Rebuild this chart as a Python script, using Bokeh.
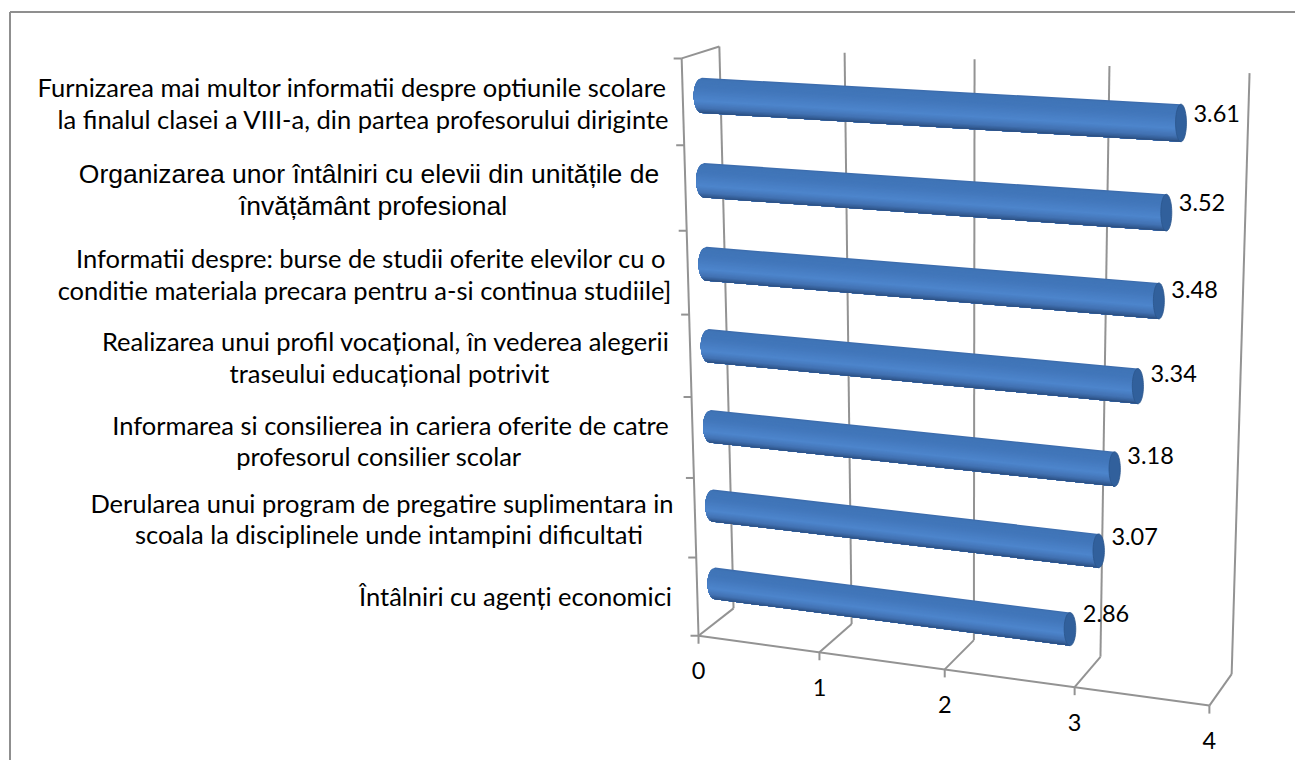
import numpy as np
from bokeh.plotting import figure
from bokeh.embed import file_html
from bokeh.resources import INLINE
from bokeh.core.properties import value as bk_value

# ---- data (top category first)
category_lines = [
    ["Furnizarea mai multor informatii despre optiunile scolare", "la finalul clasei a VIII-a, din partea profesorului diriginte"],
    ["Organizarea unor întâlniri cu elevii din unitățile de", "învățământ profesional"],
    ["Informatii despre: burse de studii oferite elevilor cu o", "conditie materiala precara pentru a-si continua studiile]"],
    ["Realizarea unui profil vocațional, în vederea alegerii", "traseului educațional potrivit"],
    ["Informarea si consilierea in cariera oferite de catre", "profesorul consilier scolar"],
    ["Derularea unui program de pregatire suplimentara in", "scoala la disciplinele unde intampini dificultati"],
    ["Întâlniri cu agenți economici"],
]
values = [3.61, 3.52, 3.48, 3.34, 3.18, 3.07, 2.86]
x_ticks = [0, 1, 2, 3, 4]
value_labels = ["3.61", "3.52", "3.48", "3.34", "3.18", "3.07", "2.86"]

# ---- layout
W, H = 1295, 760
V_MAX, N_CAT = 4.0, 7.0
# box corners (value, category, depth) -> pixel
CORNERS = [
    ((0, 0, 0), (698, 635)), ((4, 0, 0), (1209, 705)), ((0, 7, 0), (681, 58)),
    ((0, 0, 1), (733, 608)), ((4, 0, 1), (1231, 674)), ((0, 7, 1), (719, 46)),
    ((4, 7, 1), (1249, 73)), ((1, 0, 0), (819, 652)), ((3, 0, 1), (1100, 656)),
    ((3, 7, 1), (1109, 65)),
]
LABEL_CX = [[351.5, 363], [368.5, 372.5], [370.5, 364], [385.5, 389], [390, 378.5], [381.5, 388.5], [515]]
LABEL_CY = [[86, 118], [173, 205], [257, 289], [340, 372], [424, 455], [502, 533], [595]]
GRAD_POS = [0, .03, .3, .65, .85, .95, 1]
GRAD_COL = [(0x3a, 0x65, 0xa3), (0x3f, 0x74, 0xb6), (0x42, 0x77, 0xbb), (0x4d, 0x85, 0xcc),
            (0x42, 0x72, 0xb3), (0x33, 0x5c, 0x94), (0x2a, 0x4c, 0x7c)]
CAP_COLOR = "#31609c"
LINE_COLOR = "#939393"
TEXT_FONT = "Lato"
TEXT_PX = 25.5
NUM_PX = 23.5

# solve the projective camera from the corners
A = []
for (X, Y, Z), (u, v) in CORNERS:
    A.append([X, Y, Z, 1, 0, 0, 0, 0, -u * X, -u * Y, -u * Z, -u])
    A.append([0, 0, 0, 0, X, Y, Z, 1, -v * X, -v * Y, -v * Z, -v])
P = np.linalg.svd(np.array(A, float))[2][-1].reshape(3, 4)


def proj(v, c, d):
    q = P @ np.array([v, c, d, 1.0])
    return q[0] / q[2], q[1] / q[2]


p = figure(width=W, height=H, x_range=(0, W), y_range=(H, 0), output_backend="svg",
           toolbar_location=None, min_border=0, outline_line_color=None, background_fill_color="white")
p.axis.visible = False
p.grid.visible = False

# frame (left and top edges show)
p.line([9.5, 9.5], [H, 11.5], line_color="#8f8f8f", line_width=2)
p.line([9.5, W], [11.5, 11.5], line_color="#8f8f8f", line_width=2)


def seg(a, b):
    p.line([a[0], b[0]], [a[1], b[1]], line_color=LINE_COLOR, line_width=2)


# walls, gridlines, ticks
seg(proj(0, 0, 0), proj(V_MAX, 0, 0))
seg(proj(0, 0, 0), proj(0, N_CAT, 0))
seg(proj(0, N_CAT, 0), proj(0, N_CAT, 1))
for t in x_ticks:
    f, b, top = proj(t, 0, 0), proj(t, 0, 1), proj(t, N_CAT, 1)
    seg(f, b)
    seg(b, top)
    seg(f, (f[0], f[1] + 8))
    p.text([f[0]], [f[1] + 35], text=[str(t)], text_font=bk_value(TEXT_FONT),
           text_font_size=f"{NUM_PX}px", text_align="center", text_baseline="middle", text_color="#000000")
for i in range(int(N_CAT) + 1):
    f = proj(0, i, 0)
    seg(f, (f[0] - 8, f[1]))


def grad(t):
    return tuple(int(round(np.interp(t, GRAD_POS, [c[k] for c in GRAD_COL]))) for k in range(3))


def end_shape(v, c):
    cx, cy = proj(v, c, 0.5)
    b = abs(proj(v, c + 0.205, 0.5)[1] - proj(v, c - 0.205, 0.5)[1]) / 2
    a = abs(proj(v, c, 0.72)[0] - proj(v, c, 0.28)[0]) / 2
    return cx, cy, a, b


N_STRIP = 30
for i, val in enumerate(values):
    c = N_CAT - 0.5 - i
    lx, ly, la, lb = end_shape(0, c)
    rx, ry, ra, rb = end_shape(val, c)
    # painted top to bottom, each piece reaching the underside, so no seams show
    for s in range(N_STRIP):
        t1 = s / N_STRIP
        ts = np.linspace(t1, 1, 24)
        us = 2 * ts - 1
        xs = list(lx - la * np.sqrt(np.clip(1 - us * us, 0, 1))) + [rx, rx]
        ys = list(ly + lb * us) + [ry + rb, ry + rb * us[0]]
        col = "#%02x%02x%02x" % grad(t1 + 0.5 / N_STRIP)
        p.patch(xs, ys, fill_color=col, line_color=None)
    th = np.linspace(0, 2 * np.pi, 60)
    p.patch(rx + ra * np.cos(th), ry + rb * np.sin(th), fill_color=CAP_COLOR, line_color="#2b568c", line_width=0.8)
    p.text([rx + ra + 7], [ry - 9 - 7 * i / 6], text=[value_labels[i]], text_font=bk_value(TEXT_FONT),
           text_font_size=f"{NUM_PX}px", text_align="left", text_baseline="middle", text_color="#000000")

# category labels
for i, lines in enumerate(category_lines):
    arial = i == 1
    for j, line in enumerate(lines):
        p.text([LABEL_CX[i][j]], [LABEL_CY[i][j]], text=[line],
               text_font=bk_value("Liberation Sans" if arial else TEXT_FONT),
               text_font_size="26.5px" if arial else f"{TEXT_PX}px",
               text_align="center", text_baseline="middle", text_color="#000000")

open("out.html", "w").write(file_html(p, INLINE))
